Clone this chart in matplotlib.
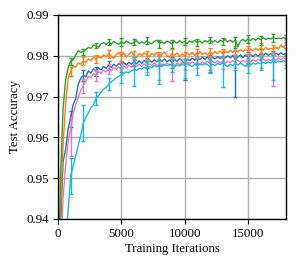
import numpy as np
import matplotlib
matplotlib.use("Agg")
import matplotlib.pyplot as plt

plt.rcParams['font.family'] = ['Liberation Serif', 'DejaVu Serif']
plt.rcParams['mathtext.fontset'] = 'stix'

step = 200
err_step = 1000

blue = [0.900, 0.938, 0.954, 0.957, 0.962, 0.965, 0.968, 0.9695, 0.9730, 0.9745,
        0.9752, 0.9748, 0.9763, 0.9757, 0.9768, 0.9762, 0.9770, 0.9765, 0.9774, 0.9769,
        0.9777, 0.9771, 0.9779, 0.9774, 0.9781, 0.9776, 0.9783, 0.9777, 0.9784, 0.9779,
        0.9786, 0.9780, 0.9787, 0.9781, 0.9788, 0.9783, 0.9789, 0.9784, 0.9790, 0.9785,
        0.9791, 0.9786, 0.9792, 0.9785, 0.9790, 0.9784, 0.9791, 0.9786, 0.9793, 0.9787,
        0.9780, 0.9792, 0.9788, 0.9794, 0.9789, 0.9795, 0.9790, 0.9796, 0.9791, 0.9797,
        0.9789, 0.9796, 0.9792, 0.9798, 0.9793, 0.9799, 0.9794, 0.9800, 0.9795, 0.9801,
        0.9790, 0.9797, 0.9802, 0.9796, 0.9801, 0.9797, 0.9803, 0.9798, 0.9804, 0.9799,
        0.9805, 0.9800, 0.9806, 0.9801, 0.9805, 0.9800, 0.9806, 0.9802, 0.9807, 0.9803,
        0.9806]
orange = [0.905, 0.941, 0.958, 0.968, 0.9745, 0.9762, 0.9776, 0.9772, 0.9782, 0.9779,
          0.9787, 0.9784, 0.9792, 0.9788, 0.9796, 0.9791, 0.9799, 0.9794, 0.9802, 0.9797,
          0.9805, 0.9799, 0.9794, 0.9803, 0.9808, 0.9800, 0.9806, 0.9797, 0.9804, 0.9809,
          0.9801, 0.9796, 0.9805, 0.9800, 0.9807, 0.9802, 0.9797, 0.9806, 0.9801, 0.9808,
          0.9799, 0.9804, 0.9809, 0.9800, 0.9796, 0.9805, 0.9801, 0.9807, 0.9798, 0.9804,
          0.9800, 0.9806, 0.9802, 0.9808, 0.9801, 0.9805, 0.9810, 0.9803, 0.9807, 0.9802,
          0.9809, 0.9804, 0.9810, 0.9805, 0.9811, 0.9806, 0.9812, 0.9807, 0.9813, 0.9808,
          0.9814, 0.9809, 0.9815, 0.9810, 0.9816, 0.9811, 0.9817, 0.9812, 0.9818, 0.9813,
          0.9819, 0.9814, 0.9820, 0.9815, 0.9818, 0.9816, 0.9821, 0.9817, 0.9826, 0.9820,
          0.9828]
green = [0.915, 0.950, 0.967, 0.974, 0.977, 0.9787, 0.9790, 0.9802, 0.9812, 0.9808,
         0.9810, 0.9815, 0.9820, 0.9818, 0.9826, 0.9824, 0.9821, 0.9829, 0.9832, 0.9827,
         0.9833, 0.9829, 0.9835, 0.9831, 0.9828, 0.9834, 0.9830, 0.9836, 0.9832, 0.9829,
         0.9833, 0.9837, 0.9830, 0.9834, 0.9831, 0.9836, 0.9832, 0.9829, 0.9835, 0.9838,
         0.9831, 0.9834, 0.9830, 0.9836, 0.9833, 0.9829, 0.9835, 0.9831, 0.9837, 0.9832,
         0.9835, 0.9830, 0.9836, 0.9833, 0.9838, 0.9832, 0.9836, 0.9831, 0.9837, 0.9834,
         0.9839, 0.9833, 0.9837, 0.9832, 0.9838, 0.9835, 0.9840, 0.9834, 0.9838, 0.9833,
         0.9839, 0.9822, 0.9836, 0.9840, 0.9835, 0.9841, 0.9837, 0.9842, 0.9838, 0.9843,
         0.9839, 0.9844, 0.9840, 0.9843, 0.9841, 0.9844, 0.9842, 0.9843, 0.9842, 0.9844,
         0.9843]
pink = [0.890, 0.930, 0.945, 0.953, 0.959, 0.962, 0.966, 0.968, 0.9698, 0.9715,
        0.9728, 0.9738, 0.9750, 0.9746, 0.9756, 0.9752, 0.9761, 0.9757, 0.9765, 0.9760,
        0.9768, 0.9763, 0.9771, 0.9766, 0.9773, 0.9768, 0.9775, 0.9770, 0.9777, 0.9772,
        0.9778, 0.9773, 0.9779, 0.9774, 0.9780, 0.9775, 0.9781, 0.9776, 0.9782, 0.9777,
        0.9772, 0.9780, 0.9776, 0.9782, 0.9777, 0.9781, 0.9776, 0.9782, 0.9778, 0.9783,
        0.9779, 0.9784, 0.9779, 0.9785, 0.9780, 0.9784, 0.9779, 0.9785, 0.9780, 0.9786,
        0.9781, 0.9786, 0.9782, 0.9787, 0.9782, 0.9786, 0.9781, 0.9787, 0.9783, 0.9788,
        0.9784, 0.9789, 0.9784, 0.9788, 0.9785, 0.9790, 0.9785, 0.9790, 0.9786, 0.9791,
        0.9787, 0.9792, 0.9787, 0.9791, 0.9788, 0.9793, 0.9789, 0.9794, 0.9790, 0.9795,
        0.9792]
cyan = [0.850, 0.890, 0.915, 0.933, 0.942, 0.9505, 0.9530, 0.9555, 0.9580, 0.9605,
        0.9635, 0.9648, 0.9660, 0.9672, 0.9680, 0.9695, 0.9702, 0.9710, 0.9718, 0.9722,
        0.9730, 0.9736, 0.9740, 0.9746, 0.9749, 0.9753, 0.9757, 0.9760, 0.9758, 0.9763,
        0.9766, 0.9764, 0.9769, 0.9767, 0.9772, 0.9770, 0.9774, 0.9771, 0.9776, 0.9773,
        0.9777, 0.9774, 0.9778, 0.9775, 0.9779, 0.9776, 0.9772, 0.9778, 0.9775, 0.9779,
        0.9776, 0.9780, 0.9777, 0.9773, 0.9779, 0.9776, 0.9780, 0.9777, 0.9781, 0.9778,
        0.9774, 0.9779, 0.9776, 0.9781, 0.9778, 0.9782, 0.9777, 0.9773, 0.9779, 0.9776,
        0.9781, 0.9777, 0.9782, 0.9778, 0.9774, 0.9780, 0.9777, 0.9782, 0.9779, 0.9783,
        0.9780, 0.9784, 0.9781, 0.9785, 0.9782, 0.9786, 0.9783, 0.9787, 0.9784, 0.9788,
        0.9786]

# asymmetric error bars every 1000 iterations (lower, upper)
blue_lo = [0, 0.0025, 0.0015, 0.0012, 0.0012, 0.0015, 0.0012, 0.0014, 0.0015, 0.0013,
           0.0040, 0.0015, 0.0028, 0.0014, 0.0090, 0.0015, 0.0014, 0.0013, 0.0012]
blue_hi = [0, 0.0015, 0.0012, 0.0010, 0.0011, 0.0012, 0.0011, 0.0012, 0.0011, 0.0012,
           0.0013, 0.0012, 0.0012, 0.0011, 0.0012, 0.0011, 0.0012, 0.0011, 0.0012]
orange_lo = [0, 0.0012, 0.0010, 0.0009, 0.0010, 0.0012, 0.0010, 0.0011, 0.0025, 0.0012,
             0.0015, 0.0010, 0.0012, 0.0011, 0.0013, 0.0010, 0.0012, 0.0011, 0.0010]
orange_hi = [0, 0.0010, 0.0009, 0.0010, 0.0009, 0.0010, 0.0011, 0.0009, 0.0010, 0.0011,
             0.0010, 0.0012, 0.0010, 0.0011, 0.0010, 0.0012, 0.0011, 0.0010, 0.0012]
green_lo = [0, 0.0010, 0.0008, 0.0006, 0.0008, 0.0010, 0.0008, 0.0008, 0.0012, 0.0009,
            0.0010, 0.0008, 0.0009, 0.0010, 0.0020, 0.0010, 0.0012, 0.0011, 0.0010]
green_hi = [0, 0.0008, 0.0007, 0.0006, 0.0007, 0.0009, 0.0008, 0.0009, 0.0008, 0.0010,
            0.0008, 0.0010, 0.0008, 0.0009, 0.0008, 0.0010, 0.0009, 0.0010, 0.0008]
pink_lo = [0, 0.0065, 0.0020, 0.0015, 0.0014, 0.0015, 0.0014, 0.0015, 0.0032, 0.0043,
           0.0015, 0.0014, 0.0015, 0.0018, 0.0014, 0.0015, 0.0016, 0.0067, 0.0014]
pink_hi = [0, 0.0030, 0.0015, 0.0012, 0.0012, 0.0013, 0.0012, 0.0014, 0.0015, 0.0013,
           0.0014, 0.0013, 0.0014, 0.0013, 0.0030, 0.0013, 0.0014, 0.0015, 0.0013]
cyan_lo = [0, 0.0045, 0.0045, 0.0015, 0.0015, 0.0020, 0.0040, 0.0018, 0.0047, 0.0016,
           0.0030, 0.0023, 0.0016, 0.0058, 0.0017, 0.0023, 0.0016, 0.0046, 0.0015]
cyan_hi = [0, 0.0045, 0.0045, 0.0015, 0.0015, 0.0018, 0.0030, 0.0016, 0.0015, 0.0016,
           0.0016, 0.0015, 0.0016, 0.0015, 0.0016, 0.0015, 0.0016, 0.0015, 0.0015]

series = [
    (blue, blue_lo, blue_hi, 'tab:blue'),
    (orange, orange_lo, orange_hi, 'tab:orange'),
    (green, green_lo, green_hi, 'tab:green'),
    (pink, pink_lo, pink_hi, 'tab:pink'),
    (cyan, cyan_lo, cyan_hi, 'tab:cyan'),
]

fig = plt.figure(figsize=(3.02, 2.66), dpi=100)
ax = fig.add_axes([0.192, 0.177, 0.755, 0.767])

k = err_step // step
for ys, lo, hi, col in series:
    ys = np.array(ys)
    xs = np.arange(len(ys)) * step
    ax.plot(xs, ys, color=col, lw=1.0)
    xe = xs[::k]
    ye = ys[::k]
    n = min(len(xe), len(lo))
    ax.errorbar(xe[:n], ye[:n], yerr=[lo[:n], hi[:n]], fmt='none', ecolor=col,
                elinewidth=1.0, capsize=1.5, capthick=1.0)

ax.set_xlim(0, 18000)
ax.set_ylim(0.94, 0.99)
ax.set_xticks([0, 5000, 10000, 15000])
ax.set_yticks([0.94, 0.95, 0.96, 0.97, 0.98, 0.99])
ax.grid(True, color='#b0b0b0', lw=1.0)
ax.set_axisbelow(True)
ax.tick_params(labelsize=9.3, length=3.5, width=0.8, pad=3)
ax.set_xlabel('Training Iterations', fontsize=9.3, labelpad=2)
ax.set_ylabel('Test Accuracy', fontsize=9.3, labelpad=4)
for s in ax.spines.values():
    s.set_linewidth(1.0)

fig.savefig('out.png', dpi=100)
